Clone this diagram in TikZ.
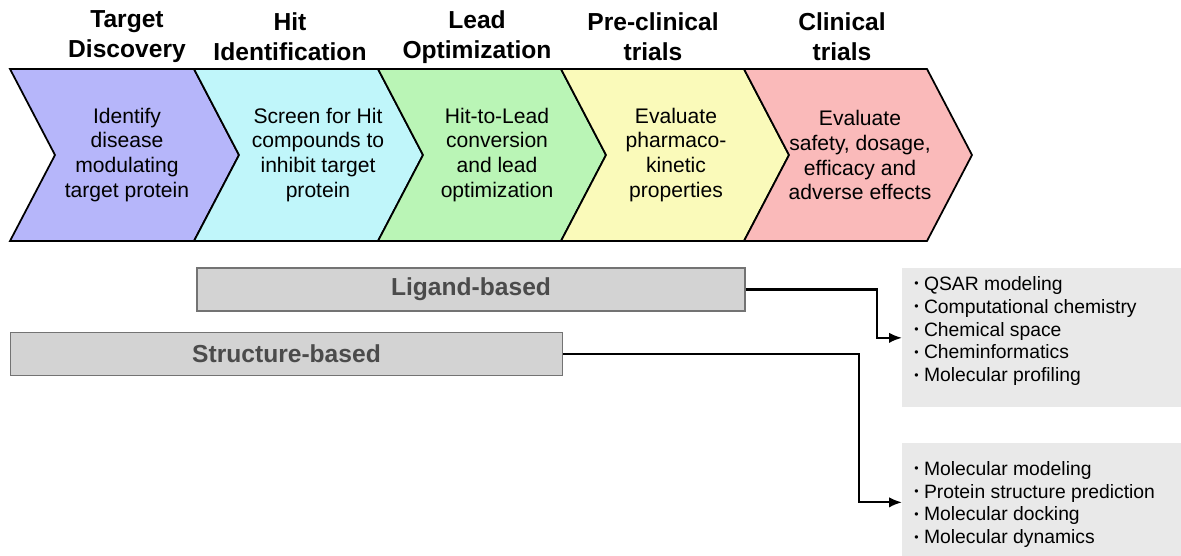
\documentclass[tikz,border=0pt]{standalone}
\usepackage{fontspec}
\setmainfont{Liberation Sans}
\usetikzlibrary{arrows.meta}

\definecolor{stageA}{RGB}{182,182,250}
\definecolor{stageB}{RGB}{192,246,250}
\definecolor{stageC}{RGB}{186,245,182}
\definecolor{stageD}{RGB}{250,250,186}
\definecolor{stageE}{RGB}{250,186,186}
\definecolor{methodfill}{RGB}{211,211,211}
\definecolor{methodline}{RGB}{115,115,115}
\definecolor{methodtext}{RGB}{75,75,75}
\definecolor{listfill}{RGB}{233,233,233}

\newcommand{\bul}{\raisebox{0.25ex}{\fontsize{7}{7}\selectfont\textbullet}\ }

\tikzset{
  header/.style={font=\fontsize{14}{17}\selectfont\bfseries, align=center},
  stage/.style={draw=black, line width=1pt, line join=miter},
  stagetext/.style={font=\fontsize{12}{14.2}\selectfont, align=center},
  method/.style={draw=methodline, line width=0.8pt, fill=methodfill, minimum height=0.86cm,
    font=\fontsize{14}{17}\selectfont\bfseries, text=methodtext},
  listbox/.style={fill=listfill, anchor=north west, minimum width=5.6cm},
  listtext/.style={font=\fontsize{11}{13}\selectfont, align=left, anchor=west, inner sep=0pt},
  link/.style={-{Latex[length=2.6mm,width=2.1mm]}, line width=1.2pt}
}

\begin{document}
\begin{tikzpicture}[x=0.02cm, y=-0.02cm]
\useasboundingbox (0,0) rectangle (1181,555);

% stage headers
\node[header] (h1) at (127,37) {Target\\Discovery};
\node[header] (h2) at (290,37) {Hit\\Identification};
\node[header] (h3) at (477,37) {Lead\\Optimization};
\node[header] (h4) at (653,37) {Pre-clinical\\trials};
\node[header] (h5) at (842,37) {Clinical\\trials};

% chevrons
\draw[stage, fill=stageA] (10,69) -- (194,69) -- (239,155) -- (194,241) -- (10,241) -- (55,155) -- cycle;
\draw[stage, fill=stageB] (194,69) -- (378,69) -- (423,155) -- (378,241) -- (194,241) -- (239,155) -- cycle;
\draw[stage, fill=stageC] (378,69) -- (561,69) -- (606,155) -- (561,241) -- (378,241) -- (423,155) -- cycle;
\draw[stage, fill=stageD] (561,69) -- (744,69) -- (789,155) -- (744,241) -- (561,241) -- (606,155) -- cycle;
\draw[stage, fill=stageE] (744,69) -- (927,69) -- (972,155) -- (927,241) -- (744,241) -- (789,155) -- cycle;

\node[stagetext] (s1) at (127,155) {Identify\\disease\\modulating\\target protein};
\node[stagetext] (s2) at (318,155) {Screen for Hit\\compounds to\\inhibit target\\protein};
\node[stagetext] (s3) at (497,155) {Hit-to-Lead\\conversion\\and lead\\optimization};
\node[stagetext] (s4) at (676,155) {Evaluate\\pharmaco-\\kinetic\\properties};
\node[stagetext] (s5) at (860,155) {Evaluate\\safety, dosage,\\efficacy and\\adverse effects};

% approaches
\node[method, minimum width=10.96cm] (lig) at (471,289.5) {Ligand-based};
\node[method, minimum width=11.04cm] (str) at (286.5,354) {Structure-based};

% method lists
\node[listbox, minimum height=2.78cm] (ligbox) at (902,268) {};
\node[listtext] (liglist) at (914,331) {\bul QSAR modeling\\\bul Computational chemistry\\\bul Chemical space\\\bul Cheminformatics\\\bul Molecular profiling};

\node[listbox, minimum height=2.36cm] (strbox) at (902,443) {};
\node[listtext] (strlist) at (914,504.5) {\bul Molecular modeling\\\bul Protein structure prediction\\\bul Molecular docking\\\bul Molecular dynamics};

\draw[link] (lig.east) -- ++(131,0) |- (ligbox.west);
\draw[link] (str.east) -- ++(296,0) |- (strbox.west);
\end{tikzpicture}
\end{document}
